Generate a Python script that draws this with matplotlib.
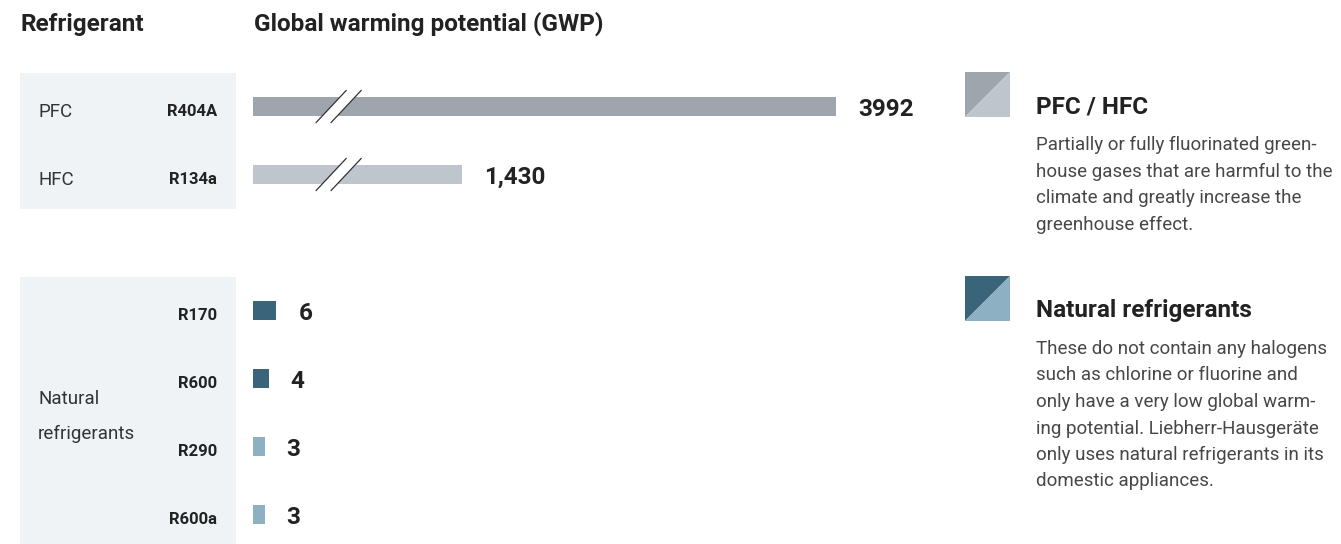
import matplotlib
matplotlib.use('Agg')
import matplotlib.pyplot as plt
from matplotlib.patches import Polygon, Rectangle
from matplotlib.transforms import blended_transform_factory

W, H = 1341, 544

# fluorinated refrigerants (drawn on a broken scale)
groups_top = ['PFC', 'HFC']
names_top = ['R404A', 'R134a']
gwp_top = [3992, 1430]
labels_top = ['3992', '1,430']
colors_top = ['#9ea5ad', '#bec5cd']

# natural refrigerants
names_nat = ['R170', 'R600', 'R290', 'R600a']
gwp_nat = [6, 4, 3, 3]
labels_nat = ['6', '4', '3', '3']
colors_nat = ['#3a6479', '#3a6479', '#8db1c3', '#8db1c3']

legend_titles = ['PFC / HFC', 'Natural refrigerants']
legend_lines = [
    ['Partially or fully fluorinated green-',
     'house gases that are harmful to the',
     'climate and greatly increase the',
     'greenhouse effect.'],
    ['These do not contain any halogens',
     'such as chlorine or fluorine and',
     'only have a very low global warm-',
     'ing potential. Liebherr-Hausgeräte',
     'only uses natural refrigerants in its',
     'domestic appliances.'],
]
legend_colors = [('#9ea5ad', '#bec5cd'), ('#3a6479', '#8db1c3')]

rows_top = [0, 1]
rows_nat = [3, 4, 5, 6]

DARK = '#222222'
BODY = '#474747'
PANEL = '#eff3f6'
FONT = ['Roboto', 'DejaVu Sans']

ROW_PX = 68.0
AX_W = 700
SMALL_MAX = 180
BIG_MAX = 4790
BREAK_AT = 586


def px(x, y):
    return x / W, 1 - y / H


plt.rcParams['font.family'] = FONT
fig = plt.figure(figsize=(W / 100, H / 100), dpi=100)

ax = fig.add_axes([253 / W, 0, AX_W / W, 1])
ax.set_ylim((H - 106.5) / ROW_PX, -106.5 / ROW_PX)
ax.set_xlim(0, SMALL_MAX)
ax.axis('off')
ax_big = ax.twiny()
ax_big.set_xlim(0, BIG_MAX)
ax_big.axis('off')

# grey panels behind the refrigerant names
blend = blended_transform_factory(fig.transFigure, ax.transData)
for y0, y1 in [(-0.5, 1.5), (2.5, 7.5)]:
    fig.add_artist(Rectangle((20 / W, y0), 216 / W, y1 - y0, transform=blend,
                             facecolor=PANEL, edgecolor='none', zorder=0))

ax_big.barh(rows_top, gwp_top, height=19 / ROW_PX, color=colors_top, zorder=2)
ax.barh(rows_nat, gwp_nat, height=19 / ROW_PX, color=colors_nat, zorder=2)

# break marks on the long bars
dx = lambda p: p * BIG_MAX / AX_W
dy = lambda p: p / ROW_PX
for r in rows_top:
    gap = [(BREAK_AT + dx(-22.5), r + dy(16)), (BREAK_AT + dx(7.5), r - dy(16)),
           (BREAK_AT + dx(22.5), r - dy(16)), (BREAK_AT + dx(-7.5), r + dy(16))]
    ax_big.add_patch(Polygon(gap, closed=True, facecolor='white', edgecolor='none',
                             zorder=3))
    for off in (-7.5, 7.5):
        ax_big.plot([BREAK_AT + dx(off - 15), BREAK_AT + dx(off + 15)],
                    [r + dy(16), r - dy(16)], color='#333333', lw=0.9, zorder=4)

off_pt = 22 * 72 / 100
for r, v, lab in zip(rows_top, gwp_top, labels_top):
    ax_big.annotate(lab, xy=(v, r), xytext=(off_pt, -2.2), textcoords='offset points',
                    ha='left', va='center', fontsize=17.5, fontweight='bold',
                    color=DARK)
for r, v, lab in zip(rows_nat, gwp_nat, labels_nat):
    ax.annotate(lab, xy=(v, r), xytext=(off_pt, -2.2), textcoords='offset points',
                ha='left', va='center', fontsize=17.5, fontweight='bold', color=DARK)

# row labels
for r, g, n in zip(rows_top, groups_top, names_top):
    fig.text(38 / W, r + 0.08, g, transform=blend, ha='left', va='center',
             fontsize=13.5, color='#333333')
    fig.text(217 / W, r + 0.08, n, transform=blend, ha='right', va='center',
             fontsize=12, fontweight='bold', color=DARK)
for r, n in zip(rows_nat, names_nat):
    fig.text(217 / W, r + 0.08, n, transform=blend, ha='right', va='center',
             fontsize=12, fontweight='bold', color=DARK)
for yp, word in zip([398, 433], ['Natural', 'refrigerants']):
    fig.text(*px(38, yp + 1), word, ha='left', va='center', fontsize=13.5,
             color='#333333')

# column headings
fig.text(*px(20, 24), 'Refrigerant', ha='left', va='center', fontsize=17.5,
         fontweight='bold', color=DARK)
fig.text(*px(254, 24), 'Global warming potential (GWP)', ha='left', va='center',
         fontsize=17.5, fontweight='bold', color=DARK)

# legend blocks
for top, title, lines, (c1, c2) in zip([72, 276], legend_titles, legend_lines,
                                        legend_colors):
    fig.add_artist(Polygon([px(965, top), px(1010, top), px(965, top + 45)],
                           closed=True, facecolor=c1, edgecolor='none',
                           transform=fig.transFigure))
    fig.add_artist(Polygon([px(1010, top), px(1010, top + 45), px(965, top + 45)],
                           closed=True, facecolor=c2, edgecolor='none',
                           transform=fig.transFigure))
    fig.text(*px(1036, top + 35), title, ha='left', va='center', fontsize=17.5,
             fontweight='bold', color=DARK)
    for i, line in enumerate(lines):
        fig.text(*px(1036, top + 73 + i * 26.5), line, ha='left', va='center',
                 fontsize=13.5, color=BODY)

fig.savefig('out.png', dpi=100, facecolor='white')
